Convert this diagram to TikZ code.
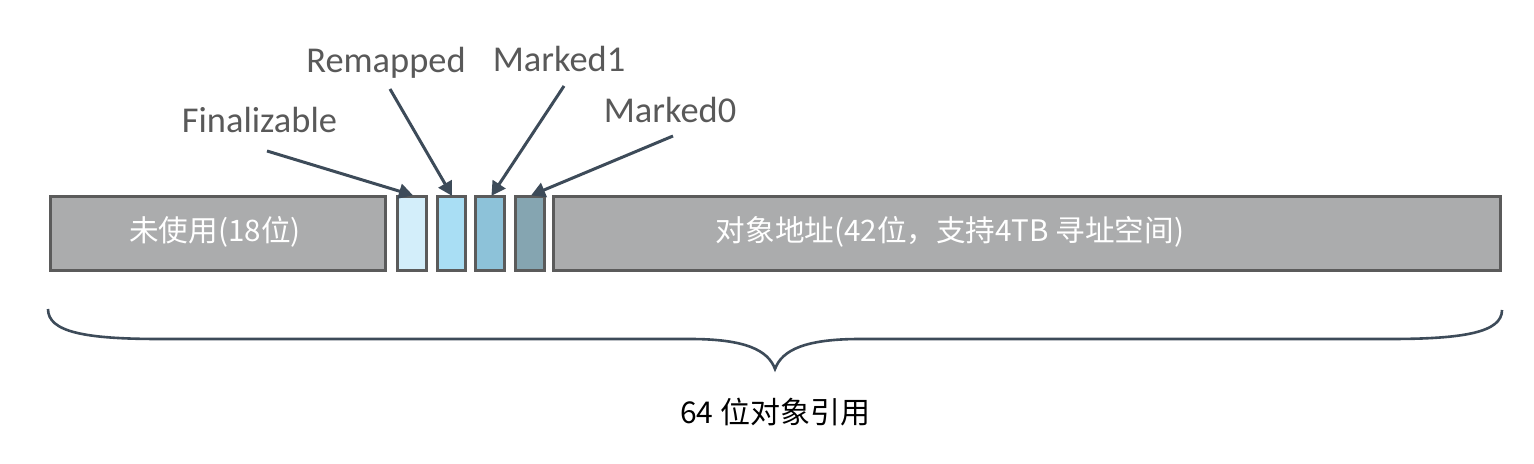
\documentclass[tikz,border=0pt]{standalone}
\usepackage{fontspec}
\setmainfont{Carlito}
\newfontfamily\cjk{Noto Sans CJK SC}
\usetikzlibrary{arrows.meta}
\definecolor{boxgray}{HTML}{ABACAD}
\definecolor{boxline}{HTML}{5B5B5B}
\definecolor{bitA}{HTML}{D3EEFA}
\definecolor{bitB}{HTML}{A9DEF4}
\definecolor{bitC}{HTML}{8DC2D9}
\definecolor{bitD}{HTML}{85A5B1}
\definecolor{arrowcol}{HTML}{3D4B59}
\definecolor{labelcol}{HTML}{595959}
\tikzset{
  fieldbox/.style={draw=boxline, line width=1.5pt, fill=boxgray, minimum height=37pt, inner sep=0pt},
  bitbox/.style={draw=boxline, line width=1.5pt, minimum width=14.5pt, minimum height=37pt, inner sep=0pt},
  boxtext/.style={text=white, font=\cjk\fontsize{14.8pt}{17pt}\selectfont, inner sep=0pt},
  bitlabel/.style={text=labelcol, font=\fontsize{18.2pt}{21pt}\selectfont, anchor=base, inner sep=0pt},
  pointer/.style={draw=arrowcol, line width=1.5pt, -{Triangle[length=7pt,width=7.5pt]}, shorten >=-0.5pt},
  bracepath/.style={draw=arrowcol, line width=1.3pt},
}
\begin{document}
\begin{tikzpicture}[x=0.5pt, y=-0.5pt]
\useasboundingbox (0,0) rectangle (1534,464);
% boxes
\node[fieldbox, minimum width=167.5pt] (unused) at (218,233.5) {};
\node[boxtext] (unusedtxt) at (215,232) {未使用(18位)};
\node[bitbox, fill=bitA] (fin) at (412,233.5) {};
\node[bitbox, fill=bitB, minimum width=14pt] (rem) at (451.5,233.5) {};
\node[bitbox, fill=bitC] (mk1) at (490,233.5) {};
\node[bitbox, fill=bitD] (mk0) at (530,233.5) {};
\node[fieldbox, minimum width=473.5pt] (addr) at (1027,233.5) {};
\node[boxtext] (addrtxt) at (950,232) {对象地址(42位，支持4TB 寻址空间)};
% labels
\node[bitlabel] (finlab) at (259.5,133) {Finalizable};
\node[bitlabel] (remlab) at (386,73) {Remapped};
\node[bitlabel] (mk1lab) at (559,72) {Marked1};
\node[bitlabel] (mk0lab) at (670,123) {Marked0};
% arrow start points
\coordinate (finstart) at (267,151);
\coordinate (remstart) at (390,89);
\coordinate (mk1start) at (564,86);
\coordinate (mk0start) at (673,136);
\draw[pointer] (finstart) -- (fin.north);
\draw[pointer] (remstart) -- (rem.north);
\draw[pointer] (mk1start) -- ([xshift=1pt]mk1.north);
\draw[pointer] (mk0start) -- ([xshift=1pt]mk0.north);
% brace
\coordinate (braceL) at (48,309);
\coordinate (braceR) at (1502,310);
\coordinate (braceTip) at (775,369);
\draw[bracepath] (braceL) .. controls (48,332) and (85,339) .. (160,339)
  -- (690,339) .. controls (745,339) and (768,350) .. (braceTip)
  .. controls (782,350) and (805,339) .. (860,339)
  -- (1390,339) .. controls (1465,339) and (1502,332) .. (braceR);
\node[text=black, font=\cjk\fontsize{15pt}{18pt}\selectfont, inner sep=0pt] (total) at (775,412) {64 位对象引用};
\end{tikzpicture}
\end{document}
